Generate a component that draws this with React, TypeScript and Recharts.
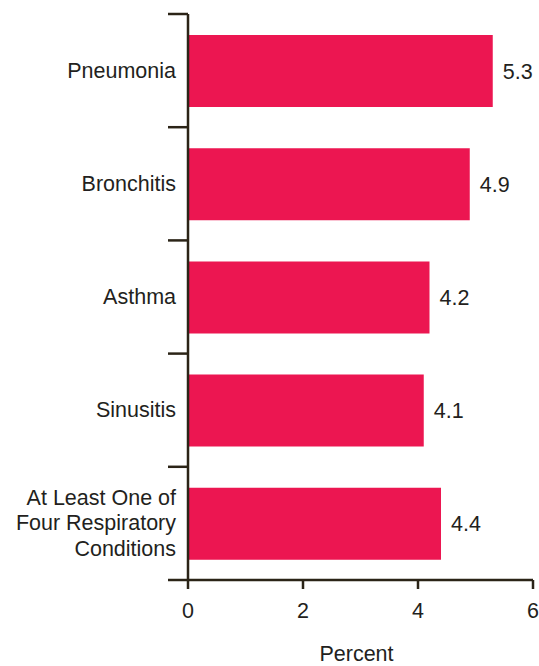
import { BarChart, Bar, XAxis, YAxis, LabelList } from 'recharts'

// Respiratory conditions, percent
const CONDITIONS = [
    'Pneumonia',
    'Bronchitis',
    'Asthma',
    'Sinusitis',
    'At Least One of\nFour Respiratory\nConditions',
]
const PERCENTS = [5.3, 4.9, 4.2, 4.1, 4.4]
const X_TICKS = [0, 2, 4, 6]

const BAR_COLOR = '#EC1651'
const INK = '#231F20'
const AXIS = '#2B2417'
const FONT = '"Liberation Sans", Arial, sans-serif'
const FS = 21.5

const data = CONDITIONS.map((name, i) => ({ name, value: PERCENTS[i] }))

const W = 539
const H = 666
const MARGIN = { top: 14, right: 6, bottom: 20, left: 0 }
const X_AXIS_H = 66
const PLOT_H = H - MARGIN.top - MARGIN.bottom - X_AXIS_H

/**
 * CategoryTick - right aligned multi-line label plus a boundary tick above the band
 */
function CategoryTick(props: any) {
    const { x, y, payload, index } = props
    const lines = String(payload.value).split('\n')
    const step = PLOT_H / CONDITIONS.length
    const axisX = x + 12
    const lineH = 25.5
    const startY = y - ((lines.length - 1) * lineH) / 2
    return (
        <g>
            <line x1={axisX - 20} x2={axisX} y1={y - step / 2} y2={y - step / 2} stroke={AXIS} strokeWidth={2.5} />
            {index === CONDITIONS.length - 1 && (
                <line x1={axisX - 20} x2={axisX} y1={y + step / 2} y2={y + step / 2} stroke={AXIS} strokeWidth={2.5} />
            )}
            <text x={x} y={startY} textAnchor="end" dominantBaseline="central" fill={INK} fontSize={FS} fontFamily={FONT}>
                {lines.map((ln, i) => (
                    <tspan key={i} x={x} y={startY + i * lineH}>{ln}</tspan>
                ))}
            </text>
        </g>
    )
}

export default function App() {
    return (
        <div style={{ position: 'absolute', left: 0, top: 0, width: W, height: H, background: '#fff' }}>
            <BarChart
                width={W}
                height={H}
                data={data}
                layout="vertical"
                margin={MARGIN}
                barSize={72}
            >
                <XAxis
                    type="number"
                    domain={[0, 6]}
                    ticks={X_TICKS}
                    height={X_AXIS_H}
                    stroke={AXIS}
                    strokeWidth={2.5}
                    tickSize={9}
                    tickMargin={14}
                    tick={{ fill: INK, fontSize: FS, fontFamily: FONT }}
                    label={{ value: 'Percent', position: 'insideBottom', offset: -15, dx: -4, fill: INK, fontSize: FS, fontFamily: FONT }}
                />
                <YAxis
                    type="category"
                    dataKey="name"
                    width={188}
                    stroke={AXIS}
                    strokeWidth={2.5}
                    tickLine={false}
                    tickSize={0}
                    tickMargin={12}
                    tick={<CategoryTick />}
                    interval={0}
                />
                <Bar dataKey="value" fill={BAR_COLOR} isAnimationActive={false}>
                    <LabelList
                        dataKey="value"
                        position="right"
                        offset={10}
                        formatter={(v: any) => Number(v).toFixed(1)}
                        fill={INK}
                        fontSize={FS}
                        fontFamily={FONT}
                    />
                </Bar>
            </BarChart>
        </div>
    )
}
